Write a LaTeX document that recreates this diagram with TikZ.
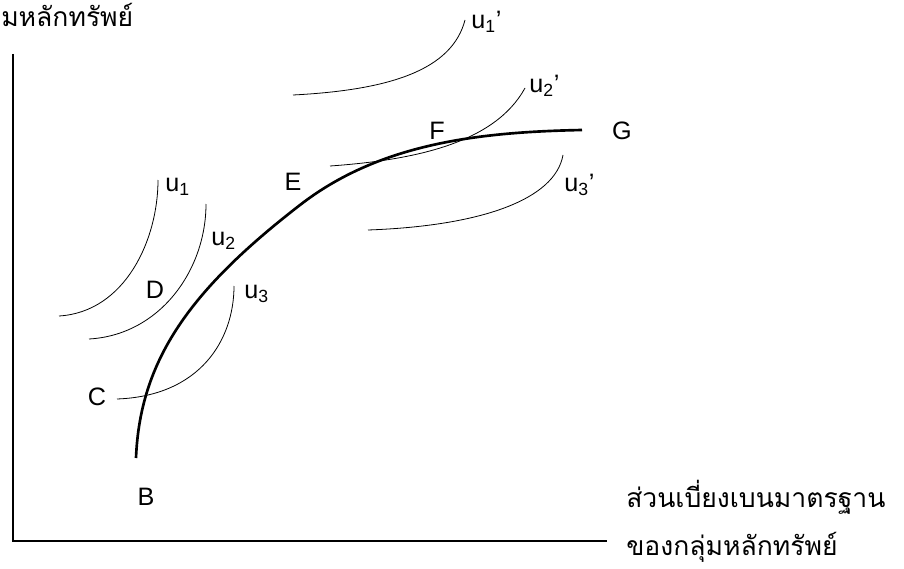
\documentclass[tikz,border=0pt]{standalone}
\usepackage{fontspec}
\setmainfont{Liberation Sans}
\newfontfamily\thaifont[Script=Thai]{Loma}
\usetikzlibrary{calc,positioning}

\begin{document}
\begin{tikzpicture}[x=0.0265cm, y=-0.0265cm,
                       axis/.style={line width=1.7pt},
                       frontier/.style={line width=2pt},
                       indiff/.style={line width=0.6pt},
                       lbl/.style={font=\fontsize{19}{22}\selectfont, inner sep=0pt},
                       thai/.style={font=\thaifont\fontsize{20}{24}\selectfont, inner sep=0pt}]
        \useasboundingbox (0,0) rectangle (904,569);
        % Axes
        \coordinate (top) at (13,54);
        \coordinate (origin) at (13,541);
        \coordinate (xend) at (607,541);
        \draw[axis] (top) -- (origin) -- (xend);
        \node[thai, anchor=base west] (ylabel) at (1,27) {มหลักทรัพย์};
        \node[thai, anchor=base west] (xlabel1) at (626,507) {ส่วนเบี่ยงเบนมาตรฐาน};
        \node[thai, anchor=base west] (xlabel2) at (626,555) {ของกลุ่มหลักทรัพย์};
        % Efficient frontier B--G
        \draw[frontier] (136,458) .. controls (140,360) and (190,290) .. (300,205)
                                  .. controls (380,143) and (480,132) .. (582,130);
        % Indifference curves, first investor
        \draw[indiff] (59,316) .. controls (125,312) and (158,240) .. (158,180);
        \draw[indiff] (89,339) .. controls (160,335) and (206,270) .. (206,204);
        \draw[indiff] (117,399) .. controls (200,396) and (234,340) .. (234,286);
        % Indifference curves, second investor
        \draw[indiff] (293,95) .. controls (390,90) and (452,70) .. (465,20);
        \draw[indiff] (330,166) .. controls (415,160) and (495,143) .. (525,88);
        \draw[indiff] (368,230) .. controls (480,226) and (555,200) .. (563,155);
        % Labels
        \node[lbl] (B) at (146,497) {B};
        \node[lbl] (C) at (97,397) {C};
        \node[lbl] (D) at (155,290) {D};
        \node[lbl] (E) at (293,182) {E};
        \node[lbl] (F) at (437,131) {F};
        \node[lbl] (G) at (622,131) {G};
        \node[lbl, anchor=west] (u1) at (165,187) {u\textsubscript{1}};
        \node[lbl, anchor=west] (u2) at (211,241) {u\textsubscript{2}};
        \node[lbl, anchor=west] (u3) at (244,294) {u\textsubscript{3}};
        \node[lbl, anchor=west] (u1p) at (471,22) {u\textsubscript{1}'};
        \node[lbl, anchor=west] (u2p) at (529,86) {u\textsubscript{2}'};
        \node[lbl, anchor=west] (u3p) at (564,185) {u\textsubscript{3}'};
    \end{tikzpicture}
\end{document}
